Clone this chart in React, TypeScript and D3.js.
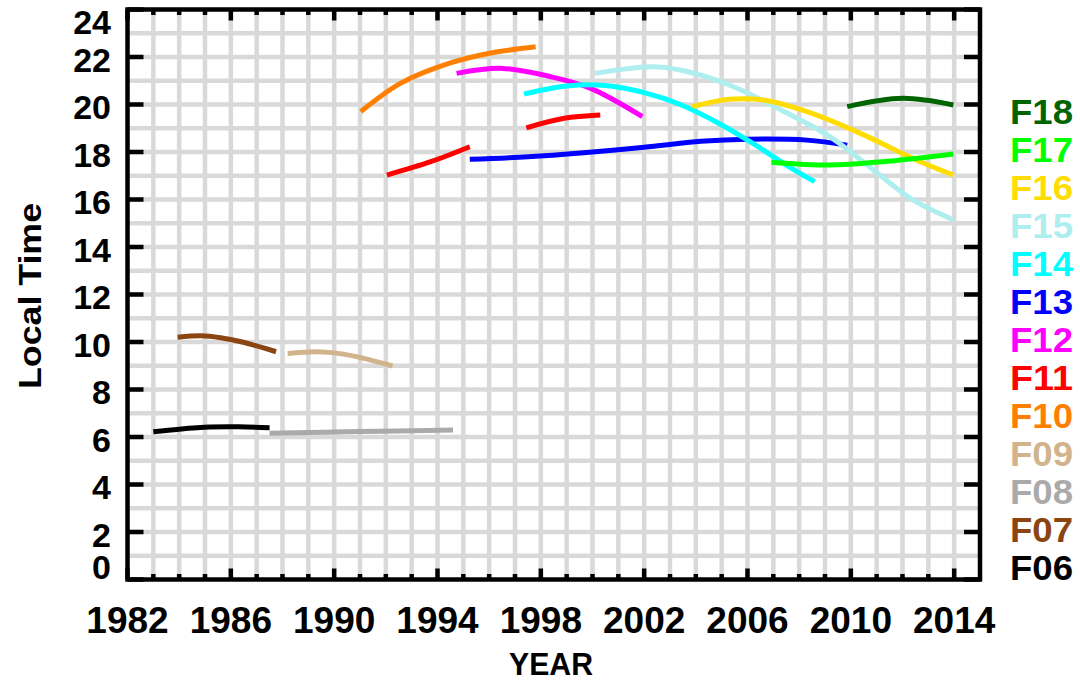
import React from "react";
import * as d3 from "d3";

// ---- Data ----
const satellites = ["F18", "F17", "F16", "F15", "F14", "F13", "F12", "F11", "F10", "F09", "F08", "F07", "F06"];
const satColors = ["#006400", "#00ff00", "#ffdd00", "#afeeee", "#00ffff", "#0000ff", "#ff00ff", "#ff0000", "#ff8000", "#d2b48c", "#aaaaaa", "#8b4513", "#000000"];

const f06Years = [1983.0, 1984.0, 1985.2, 1986.3, 1987.5];
const f06LT = [6.22, 6.33, 6.42, 6.43, 6.39];
const f07Years = [1983.94, 1984.85, 1985.6, 1986.4, 1987.75];
const f07LT = [10.2, 10.26, 10.18, 10.01, 9.59];
const f08Years = [1987.5, 1991.0, 1994.6];
const f08LT = [6.16, 6.23, 6.29];
const f09Years = [1988.2, 1989.35, 1990.3, 1991.15, 1992.26];
const f09LT = [9.52, 9.59, 9.5, 9.31, 8.99];
const f10Years = [1991.03, 1992.58, 1994.5, 1996.07, 1997.8];
const f10LT = [19.7, 20.9, 21.75, 22.17, 22.43];
const f11aYears = [1992.04, 1993.74, 1995.25];
const f11aLT = [17.03, 17.59, 18.22];
const f11bYears = [1997.44, 1998.9, 2000.3];
const f11bLT = [19.02, 19.42, 19.56];
const f12Years = [1994.74, 1996.5, 1998.38, 1999.93, 2001.93];
const f12LT = [21.31, 21.52, 21.17, 20.68, 19.49];
const f13Years = [1995.25, 1997.5, 1999.66, 2002.0, 2004.2, 2006.0, 2008.3, 2009.86];
const f13LT = [17.69, 17.8, 17.97, 18.2, 18.45, 18.54, 18.5, 18.29];
const f14Years = [1997.35, 1999.0, 2000.5, 2002.0, 2003.4, 2004.9, 2006.3, 2007.5, 2008.6];
const f14LT = [20.44, 20.78, 20.8, 20.5, 20.0, 19.2, 18.3, 17.45, 16.75];
const f15Years = [2000.1, 2002.25, 2003.4, 2005.3, 2007.3, 2009.2, 2011.2, 2012.4, 2013.97];
const f15LT = [21.31, 21.59, 21.45, 20.82, 19.77, 18.64, 16.96, 15.98, 15.14];
const f16Years = [2003.87, 2005.3, 2006.6, 2008.5, 2010.5, 2012.4, 2013.97];
const f16LT = [19.91, 20.22, 20.19, 19.63, 18.72, 17.73, 17.03];
const f17Years = [2006.93, 2009.2, 2011.2, 2013.97];
const f17LT = [17.57, 17.45, 17.59, 17.92];
const f18Years = [2009.86, 2012.0, 2013.97];
const f18LT = [19.91, 20.26, 19.98];

const segments = [
  { sat: "F06", years: f06Years, lt: f06LT },
  { sat: "F07", years: f07Years, lt: f07LT },
  { sat: "F08", years: f08Years, lt: f08LT },
  { sat: "F09", years: f09Years, lt: f09LT },
  { sat: "F10", years: f10Years, lt: f10LT },
  { sat: "F11", years: f11aYears, lt: f11aLT },
  { sat: "F11", years: f11bYears, lt: f11bLT },
  { sat: "F12", years: f12Years, lt: f12LT },
  { sat: "F13", years: f13Years, lt: f13LT },
  { sat: "F14", years: f14Years, lt: f14LT },
  { sat: "F15", years: f15Years, lt: f15LT },
  { sat: "F16", years: f16Years, lt: f16LT },
  { sat: "F17", years: f17Years, lt: f17LT },
  { sat: "F18", years: f18Years, lt: f18LT },
];

const xTickLabels = [1982, 1986, 1990, 1994, 1998, 2002, 2006, 2010, 2014];
const yTickLabels = [0, 2, 4, 6, 8, 10, 12, 14, 16, 18, 20, 22, 24];

const W = 1080;
const H = 683;
const left = 127.5;
const right = 980;
const top = 9.5;
const bottom = 579.5;
const FONT = "'Liberation Sans', Arial, sans-serif";

export default function App() {
  const x = d3.scaleLinear().domain([1982, 2015]).range([left, right]);
  const y = d3.scaleLinear().domain([0, 24]).range([bottom, top]);
  const color = d3.scaleOrdinal<string, string>().domain(satellites).range(satColors);
  const line = d3
    .line<[number, number]>()
    .x((d) => x(d[0]))
    .y((d) => y(d[1]))
    .curve(d3.curveCatmullRom.alpha(0.5));

  const yearGrid = d3.range(1983, 2015);
  const ltGrid = d3.range(1, 24);
  const minorYears = d3.range(1983, 2015).filter((v) => (v - 1982) % 4 !== 0);
  const gridColor = "#d9d9d9";

  return (
    <svg width={W} height={H} style={{ position: "absolute", left: 0, top: 0, background: "#fff" }}>
      {/* grid */}
      <g stroke={gridColor} strokeWidth={4.5}>
        {yearGrid.map((v) => (
          <line key={"gx" + v} x1={x(v)} x2={x(v)} y1={top} y2={bottom} />
        ))}
        {ltGrid.map((v) => (
          <line key={"gy" + v} x1={left} x2={right} y1={y(v)} y2={y(v)} />
        ))}
      </g>

      {/* curves */}
      <g fill="none" strokeWidth={5} strokeLinecap="butt">
        {segments.map((s, i) => (
          <path
            key={i}
            d={line(s.years.map((yr, j) => [yr, s.lt[j]] as [number, number])) || ""}
            stroke={color(s.sat)}
          />
        ))}
      </g>

      {/* ticks */}
      <g stroke="#000" strokeWidth={4.5}>
        {xTickLabels.map((v) => (
          <g key={"xt" + v}>
            <line x1={x(v)} x2={x(v)} y1={bottom} y2={bottom - 11} />
            <line x1={x(v)} x2={x(v)} y1={top} y2={top + 11} />
          </g>
        ))}
        {minorYears.map((v) => (
          <g key={"xm" + v}>
            <line x1={x(v)} x2={x(v)} y1={bottom} y2={bottom - 5.5} />
            <line x1={x(v)} x2={x(v)} y1={top} y2={top + 5.5} />
          </g>
        ))}
        {yTickLabels.map((v) => (
          <g key={"yt" + v}>
            <line x1={left} x2={left + 16} y1={y(v)} y2={y(v)} />
            <line x1={right} x2={right - 16} y1={y(v)} y2={y(v)} />
          </g>
        ))}
      </g>

      {/* frame */}
      <rect x={left} y={top} width={right - left} height={bottom - top} fill="none" stroke="#000" strokeWidth={4.5} />

      {/* x tick labels */}
      <g fontFamily={FONT} fontWeight="bold" fontSize={37} textAnchor="middle" fill="#000">
        {xTickLabels.map((v) => (
          <text key={"xl" + v} x={x(v)} y={633}>
            {v}
          </text>
        ))}
      </g>

      {/* y tick labels */}
      <g fontFamily={FONT} fontWeight="bold" fontSize={34} textAnchor="end" fill="#000">
        {yTickLabels.map((v) => {
          const c = Math.max(top + 12.5, Math.min(bottom - 12.5, y(v) + 2.5));
          return (
            <text key={"yl" + v} x={111} y={c + 12}>
              {v}
            </text>
          );
        })}
      </g>

      {/* axis titles */}
      <text x={551} y={675} fontFamily={FONT} fontWeight="bold" fontSize={32} textAnchor="middle" textLength={84} lengthAdjust="spacingAndGlyphs">
        YEAR
      </text>
      <text
        transform={`translate(41,296) rotate(-90)`}
        fontFamily={FONT}
        fontWeight="bold"
        fontSize={32}
        textAnchor="middle"
        textLength={186}
        lengthAdjust="spacingAndGlyphs"
      >
        Local Time
      </text>

      {/* legend */}
      <g fontFamily={FONT} fontWeight="bold" fontSize={35}>
        {satellites.map((s, i) => (
          <text key={s} x={1010} y={111.5 + i * 38 + 12.5} fill={color(s)} textLength={63} lengthAdjust="spacingAndGlyphs">
            {s}
          </text>
        ))}
      </g>
    </svg>
  );
}
